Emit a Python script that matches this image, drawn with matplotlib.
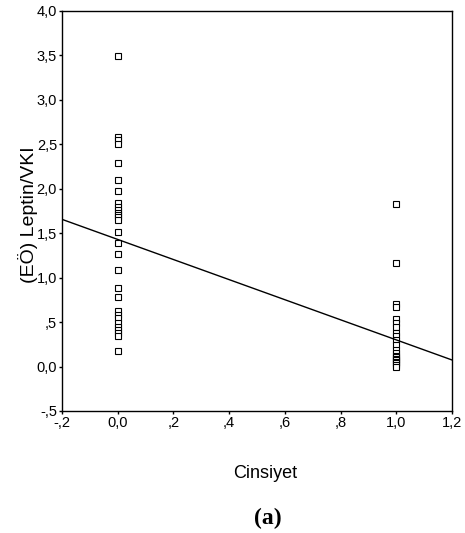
import matplotlib.pyplot as plt
import numpy as np

# Cinsiyet 0 group values
group0 = [3.49, 2.58, 2.55, 2.50, 2.29, 2.10, 1.98, 1.84, 1.80, 1.76, 1.73,
          1.70, 1.68, 1.65, 1.51, 1.39, 1.27, 1.09, 0.88, 0.78, 0.62, 0.58,
          0.55, 0.49, 0.45, 0.41, 0.38, 0.34, 0.18]
# Cinsiyet 1 group values
group1 = [1.83, 1.16, 0.70, 0.67, 0.53, 0.49, 0.45, 0.38, 0.34, 0.30, 0.24,
          0.19, 0.15, 0.12, 0.11, 0.09, 0.07, 0.05, 0.04, 0.02, 0.0]

fit_intercept = 1.43
fit_slope = -1.13

xticks = [-0.2, 0.0, 0.2, 0.4, 0.6, 0.8, 1.0, 1.2]
xlabels = ["-,2", "0,0", ",2", ",4", ",6", ",8", "1,0", "1,2"]
yticks = [-0.5, 0.0, 0.5, 1.0, 1.5, 2.0, 2.5, 3.0, 3.5, 4.0]
ylabels = ["-,5", "0,0", ",5", "1,0", "1,5", "2,0", "2,5", "3,0", "3,5", "4,0"]

plt.rcParams['font.family'] = ['Liberation Sans', 'DejaVu Sans']

fig = plt.figure(figsize=(4.65, 5.33), dpi=100)
ax = fig.add_axes([0.1333, 0.2289, 0.8387, 0.7505])

ax.plot(np.zeros(len(group0)), group0, 's', ms=3.8, mfc='white', mec='black', mew=0.8)
ax.plot(np.ones(len(group1)), group1, 's', ms=3.8, mfc='white', mec='black', mew=0.8)

xl = np.array([-0.2, 1.2])
ax.plot(xl, fit_intercept + fit_slope * xl, color='black', lw=1)

ax.set_xlim(-0.2, 1.2)
ax.set_ylim(-0.5, 4.0)
ax.set_xticks(xticks)
ax.set_xticklabels(xlabels)
ax.set_yticks(yticks)
ax.set_yticklabels(ylabels)
ax.tick_params(direction='out', length=2.5, width=1, labelsize=10.5, pad=1)
for s in ax.spines.values():
    s.set_linewidth(1)

fig.text(0.060, 0.598, '(EÖ) Leptin/VKI', rotation=90, ha='center', va='center', fontsize=14)
fig.text(0.570, 0.111, 'Cinsiyet', ha='center', va='center', fontsize=13)
fig.text(0.576, 0.028, '(a)', ha='center', va='center', fontsize=17,
         fontweight='bold', family='Liberation Serif')

fig.savefig('out.png', dpi=100)
